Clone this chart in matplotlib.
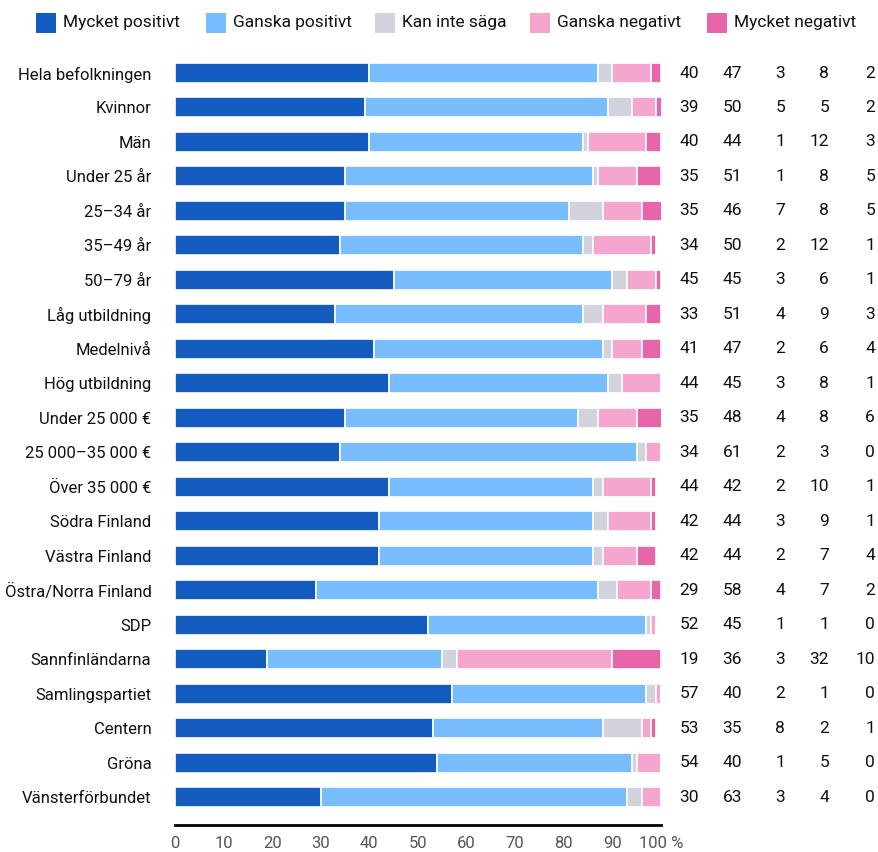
import numpy as np
import matplotlib
matplotlib.use("Agg")
import matplotlib.pyplot as plt
from matplotlib.patches import Rectangle
from matplotlib.transforms import blended_transform_factory

plt.rcParams['font.family'] = ['Roboto', 'DejaVu Sans']

groups = ["Hela befolkningen", "Kvinnor", "Män", "Under 25 år", "25–34 år",
          "35–49 år", "50–79 år", "Låg utbildning", "Medelnivå", "Hög utbildning",
          "Under 25 000 €", "25 000–35 000 €", "Över 35 000 €", "Södra Finland",
          "Västra Finland", "Östra/Norra Finland", "SDP", "Sannfinländarna",
          "Samlingspartiet", "Centern", "Gröna", "Vänsterförbundet"]

mycket_pos = [40, 39, 40, 35, 35, 34, 45, 33, 41, 44, 35, 34, 44, 42, 42, 29, 52, 19, 57, 53, 54, 30]
ganska_pos = [47, 50, 44, 51, 46, 50, 45, 51, 47, 45, 48, 61, 42, 44, 44, 58, 45, 36, 40, 35, 40, 63]
kan_inte = [3, 5, 1, 1, 7, 2, 3, 4, 2, 3, 4, 2, 2, 3, 2, 4, 1, 3, 2, 8, 1, 3]
ganska_neg = [8, 5, 12, 8, 8, 12, 6, 9, 6, 8, 8, 3, 10, 9, 7, 7, 1, 32, 1, 2, 5, 4]
mycket_neg = [2, 2, 3, 5, 5, 1, 1, 3, 4, 1, 6, 0, 1, 1, 4, 2, 0, 10, 0, 1, 0, 0]

series = ["Mycket positivt", "Ganska positivt", "Kan inte säga", "Ganska negativt", "Mycket negativt"]
colors = ["#135bbf", "#78bdff", "#d3d3de", "#f4a6cf", "#e766a9"]
values = [mycket_pos, ganska_pos, kan_inte, ganska_neg, mycket_neg]

W, H = 879, 852
FS = 12.5
fig = plt.figure(figsize=(W / 100, H / 100), dpi=100)

# axes placement in pixels
x0, x1 = 175, 661
row0, rowN = 73, 797
step = (rowN - row0) / (len(groups) - 1)
ax_bottom = 825
ax_top = row0 - 0.5 * step
ax = fig.add_axes([x0 / W, (H - ax_bottom) / H, (x1 - x0) / W, (ax_bottom - ax_top) / H])

y = np.arange(len(groups))
left = np.zeros(len(groups))
for vals, col in zip(values, colors):
    vals = np.array(vals, dtype=float)
    ax.barh(y, vals, left=left, height=0.58, color=col, edgecolor="white", linewidth=1.2)
    left += vals

ax.set_xlim(0, 100)
ax.set_ylim(21 + (ax_bottom - rowN) / step, -0.5)
ax.set_yticks(y)
ax.set_yticklabels(groups, fontsize=12, color="#111111")
ax.tick_params(axis="y", length=0, pad=17)
ticks = np.arange(0, 101, 10)
ax.set_xticks(ticks)
ax.set_xticklabels([str(t) for t in ticks[:-1]] + ["100 %"], fontsize=FS - 0.5, color="#555555")
ax.tick_params(axis="x", length=0, pad=8)
for s in ["top", "right", "left"]:
    ax.spines[s].set_visible(False)
ax.spines["bottom"].set_linewidth(2)
ax.spines["bottom"].set_color("black")

# value columns on the right
trans = blended_transform_factory(fig.transFigure, ax.transData)
col_x = [699, 742, 785, 829, 875]
for vals, cx in zip(values, col_x):
    for i, v in enumerate(vals):
        ax.text(cx / W, i, str(v), transform=trans, ha="right", va="center",
                fontsize=FS, color="#111111", clip_on=False)

# legend on top
sq_x = [36, 206, 375, 530, 707]
for name, col, sx in zip(series, colors, sq_x):
    fig.patches.append(Rectangle((sx / W, (H - 33) / H), 20 / W, 20 / H,
                                 transform=fig.transFigure, facecolor=col, edgecolor="none"))
    fig.text((sx + 27) / W, (H - 23) / H, name, ha="left", va="center", fontsize=FS, color="#111111")

fig.savefig("out.png", dpi=100)
